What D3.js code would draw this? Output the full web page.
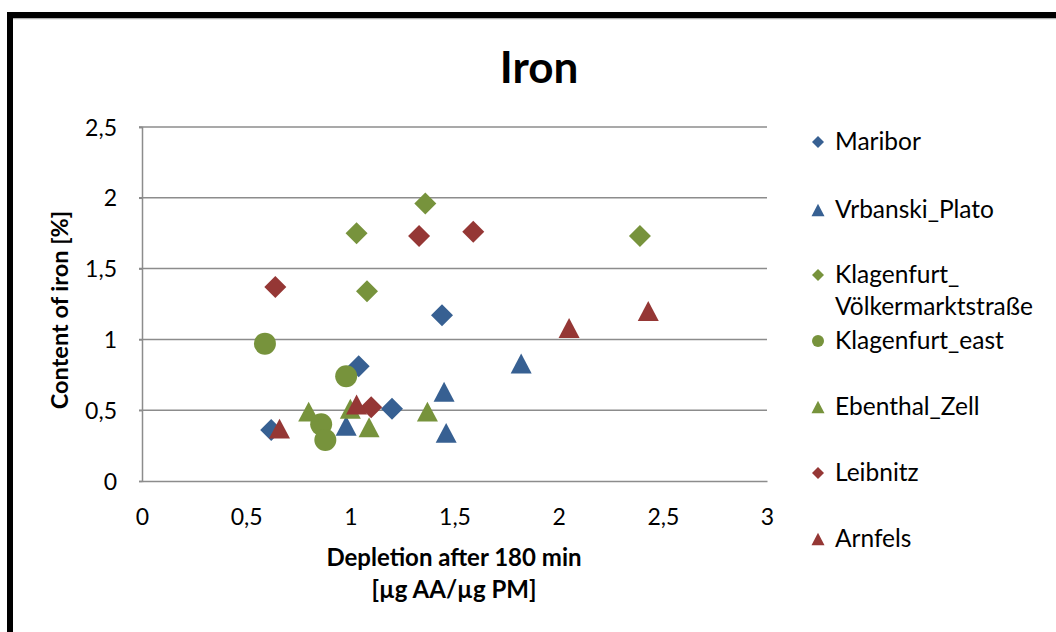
<!DOCTYPE html>
<html>
<head>
<meta charset="utf-8">
<script src="https://cdn.jsdelivr.net/npm/d3@7"></script>
<style>
  html, body { margin: 0; padding: 0; background: #fff; }
  svg { display: block; font-family: Lato, "Open Sans", sans-serif; }
</style>
</head>
<body>
<svg id="chart" width="1056" height="632"></svg>
<script>
// Iron content vs. ascorbic-acid depletion, per sampling site
const seriesNames = ["Maribor", "Vrbanski_Plato", "Klagenfurt_Völkermarktstraße", "Klagenfurt_east", "Ebenthal_Zell", "Leibnitz", "Arnfels"];
const legendLabels = [["Maribor"], ["Vrbanski_Plato"], ["Klagenfurt_", "Völkermarktstraße"], ["Klagenfurt_east"], ["Ebenthal_Zell"], ["Leibnitz"], ["Arnfels"]];
const seriesShapes = ["diamond", "triangle", "diamond", "circle", "triangle", "diamond", "triangle"];
const seriesColors = ["#376092", "#376092", "#77933c", "#77933c", "#77933c", "#953735", "#953735"];

const mariborX = [0.62, 1.04, 1.44, 1.20];
const mariborY = [0.36, 0.81, 1.17, 0.51];
const vrbanskiX = [0.98, 1.45, 1.46, 1.82];
const vrbanskiY = [0.39, 0.63, 0.34, 0.83];
const voelkermarktX = [1.03, 1.36, 1.08, 2.39];
const voelkermarktY = [1.75, 1.96, 1.34, 1.73];
const klagenfurtEastX = [0.59, 0.98, 0.86, 0.88];
const klagenfurtEastY = [0.97, 0.74, 0.40, 0.29];
const ebenthalX = [0.80, 1.00, 1.09, 1.37];
const ebenthalY = [0.49, 0.51, 0.38, 0.49];
const leibnitzX = [0.64, 1.33, 1.59, 1.10];
const leibnitzY = [1.37, 1.73, 1.76, 0.52];
const arnfelsX = [0.66, 1.03, 2.05, 2.43];
const arnfelsY = [0.37, 0.54, 1.08, 1.20];

const xTicks = [0, 0.5, 1, 1.5, 2, 2.5, 3];
const yTicks = [0, 0.5, 1, 1.5, 2, 2.5];
const titleText = "Iron";
const xTitleLines = ["Depletion after 180 min", "[µg AA/µg PM]"];
const yTitleText = "Content of iron [%]";

const seriesX = [mariborX, vrbanskiX, voelkermarktX, klagenfurtEastX, ebenthalX, leibnitzX, arnfelsX];
const seriesY = [mariborY, vrbanskiY, voelkermarktY, klagenfurtEastY, ebenthalY, leibnitzY, arnfelsY];

const svg = d3.select("#chart");
const fmt = v => String(v).replace(".", ",");

// outer frame
svg.append("rect").attr("x", 10).attr("y", 15).attr("width", 1100).attr("height", 700)
  .attr("fill", "#fff").attr("stroke", "#000").attr("stroke-width", 6);
svg.append("line").attr("x1", 13).attr("x2", 1056).attr("y1", 18.7).attr("y2", 18.7)
  .attr("stroke", "#9a9a9a").attr("stroke-width", 1);

const plot = { left: 142, right: 767, top: 127, bottom: 481 };
const x = d3.scaleLinear().domain([0, 3]).range([plot.left, plot.right]);
const y = d3.scaleLinear().domain([0, 2.5]).range([plot.bottom, plot.top]);

// gridlines
svg.append("g").selectAll("line").data(yTicks.filter(t => t > 0)).join("line")
  .attr("x1", plot.left - 3).attr("x2", plot.right)
  .attr("y1", d => y(d)).attr("y2", d => y(d))
  .attr("stroke", "#8c8c8c").attr("stroke-width", 1.5);

// axes
const yAxis = svg.append("g").attr("transform", `translate(${plot.left},0)`)
  .call(d3.axisLeft(y).tickValues(yTicks).tickFormat(fmt).tickSize(3).tickPadding(22));
const xAxis = svg.append("g").attr("transform", `translate(0,${plot.bottom})`)
  .call(d3.axisBottom(x).tickValues(xTicks).tickFormat(fmt).tickSize(0).tickPadding(28));
[yAxis, xAxis].forEach(g => {
  g.select(".domain").attr("stroke", "#8c8c8c").attr("stroke-width", 1.5);
  g.selectAll(".tick line").attr("stroke", "#8c8c8c").attr("stroke-width", 1.5);
  g.selectAll(".tick text").attr("fill", "#000").attr("font-size", 23)
    .attr("font-family", "Lato, sans-serif");
});
yAxis.selectAll(".tick text").attr("dy", "0.35em");

// marker paths
function shapePath(shape, s) {
  if (shape === "diamond") return `M0,${-s}L${s},0L0,${s}L${-s},0Z`;
  if (shape === "triangle") { const h = s * 1.9; return `M0,${-h / 2}L${s},${h / 2}L${-s},${h / 2}Z`; }
  return `M${s},0A${s},${s} 0 1,1 ${-s},0A${s},${s} 0 1,1 ${s},0Z`;
}

// points
seriesNames.forEach((name, i) => {
  const pts = seriesX[i].map((v, j) => [v, seriesY[i][j]]);
  const size = seriesShapes[i] === "triangle" ? 10.5 : 11;
  svg.append("g").attr("class", "series").selectAll("path").data(pts).join("path")
    .attr("transform", d => `translate(${x(d[0])},${y(d[1])})`)
    .attr("d", shapePath(seriesShapes[i], size))
    .attr("fill", seriesColors[i]);
});

// title
svg.append("text").attr("x", 539).attr("y", 83).attr("text-anchor", "middle")
  .attr("font-size", 44).attr("font-weight", "bold").text(titleText);

// axis titles
svg.append("text").attr("text-anchor", "middle").attr("font-size", 24).attr("font-weight", "bold")
  .selectAll("tspan").data(xTitleLines).join("tspan")
  .attr("x", 454).attr("y", (d, i) => 566 + i * 32).text(d => d);
svg.append("text").attr("transform", "translate(68,310) rotate(-90)").attr("text-anchor", "middle")
  .attr("font-size", 23.5).attr("font-weight", "bold").text(yTitleText);

// legend
const legendRows = [142, 210, 275, 341, 407, 473, 539];
const legend = svg.append("g");
seriesNames.forEach((name, i) => {
  const ly = legendRows[i];
  legend.append("path").attr("transform", `translate(818,${ly})`)
    .attr("d", shapePath(seriesShapes[i], seriesShapes[i] === "triangle" ? 6.5 : 6))
    .attr("fill", seriesColors[i]);
  legend.append("text").attr("font-size", 24.5).attr("fill", "#000")
    .selectAll("tspan").data(legendLabels[i]).join("tspan")
    .attr("x", 835).attr("y", (d, k) => ly + 8 + k * 32).text(d => d);
});
</script>
</body>
</html>
